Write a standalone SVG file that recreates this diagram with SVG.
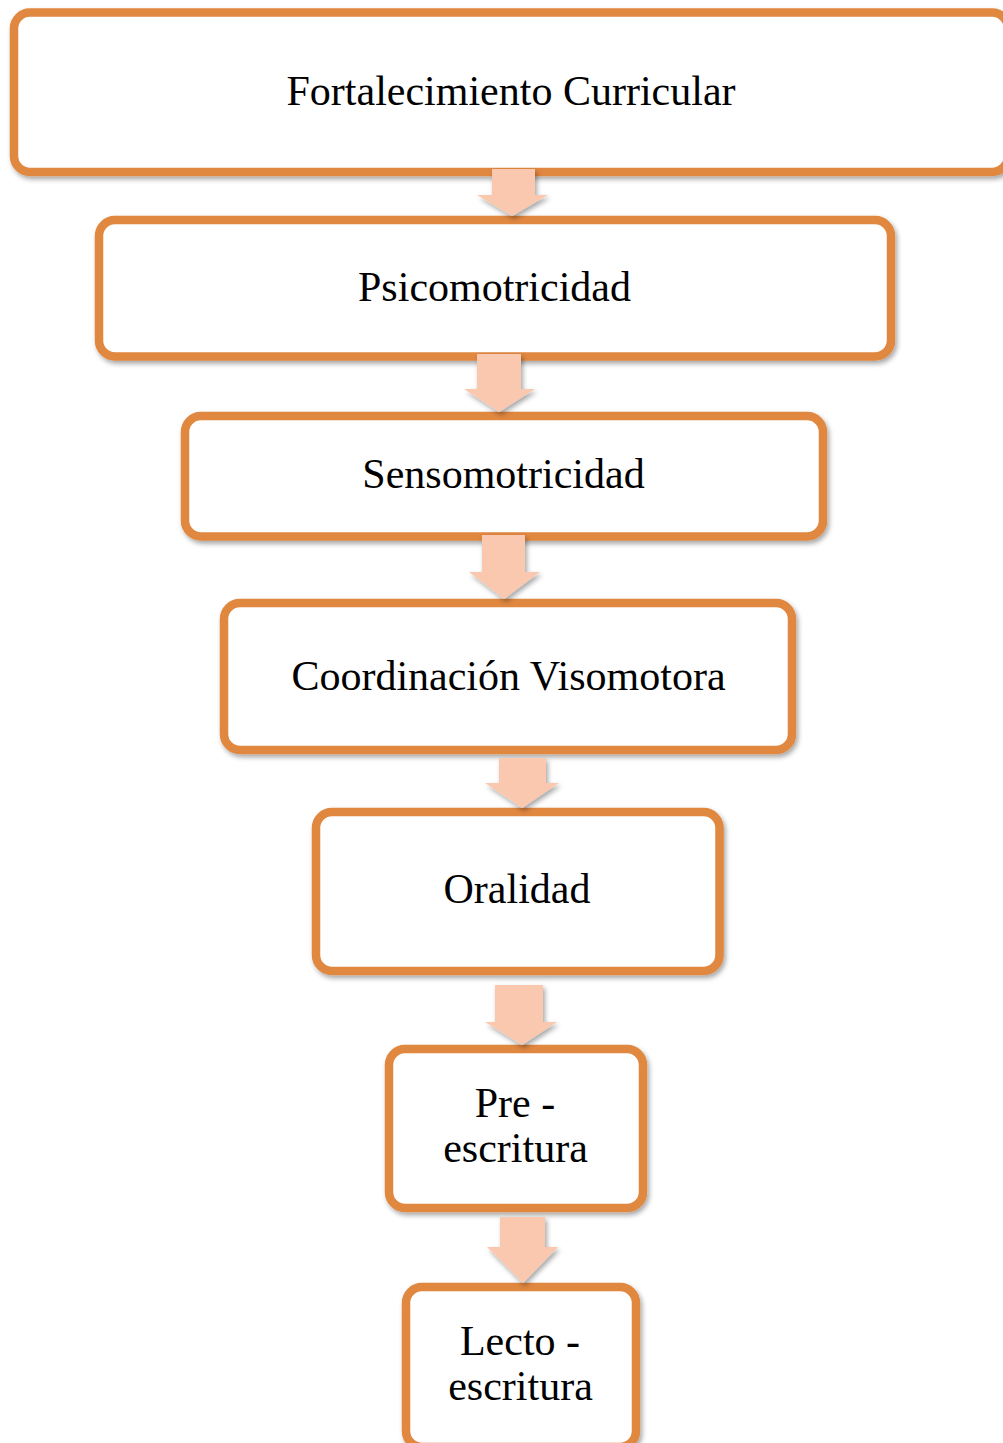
<svg xmlns="http://www.w3.org/2000/svg" width="1003" height="1443" viewBox="0 0 1003 1443">
<defs>
<filter id="sh" x="-10%" y="-10%" width="120%" height="130%">
<feDropShadow dx="2" dy="3" stdDeviation="2.5" flood-color="#000" flood-opacity="0.35"/>
</filter>
<style>
.box{fill:#fff;stroke:#E0873F;stroke-width:8.5;filter:url(#sh)}
.arr{fill:#F9C8AE;stroke:none;filter:url(#sh)}
.t{font-family:"Liberation Serif","Times New Roman",serif;font-size:42px;fill:#000;text-anchor:middle}
</style>
</defs>
<rect width="1003" height="1443" fill="#fff"/>
<g id="n1">
<rect class="box" x="14" y="12.5" width="994" height="159.5" rx="16"/>
<text class="t" x="511" y="105">Fortalecimiento Curricular</text>
</g>
<g id="n2">
<rect class="box" x="99" y="220" width="792" height="136.5" rx="16"/>
<text class="t" x="494.5" y="301">Psicomotricidad</text>
</g>
<g id="n3">
<rect class="box" x="185" y="416" width="638" height="120.5" rx="16"/>
<text class="t" x="503.5" y="488">Sensomotricidad</text>
</g>
<g id="n4">
<rect class="box" x="224" y="603" width="568" height="147" rx="16"/>
<text class="t" x="508.5" y="690">Coordinación Visomotora</text>
</g>
<g id="n5">
<rect class="box" x="316" y="812" width="403.5" height="159" rx="16"/>
<text class="t" x="517" y="903">Oralidad</text>
</g>
<g id="n6">
<rect class="box" x="389" y="1049" width="254" height="159" rx="16"/>
<text class="t" x="515" y="1117">Pre -</text>
<text class="t" x="515.5" y="1162">escritura</text>
</g>
<g id="n7">
<rect class="box" x="406" y="1287" width="230" height="160" rx="16"/>
<text class="t" x="520" y="1355">Lecto -</text>
<text class="t" x="520.5" y="1400">escritura</text>
</g>
<g id="connectors">
<path class="arr" d="M492,169 L535,169 L535,195 L548,195 L512,216 L477,195 L492,195 Z"/>
<path class="arr" d="M477,354 L521,354 L521,389 L535,389 L499,412 L464,389 L477,389 Z"/>
<path class="arr" d="M482,535 L525,535 L525,572 L540,572 L504,599 L469,572 L482,572 Z"/>
<path class="arr" d="M499,758 L546,758 L546,783 L559,783 L522,808 L485,783 L499,783 Z"/>
<path class="arr" d="M495,985 L543,985 L543,1022 L557,1022 L522,1045 L485,1022 L495,1022 Z"/>
<path class="arr" d="M500,1217 L545,1217 L545,1247 L558,1247 L523,1283 L487,1247 L500,1247 Z"/>
</g>
</svg>
